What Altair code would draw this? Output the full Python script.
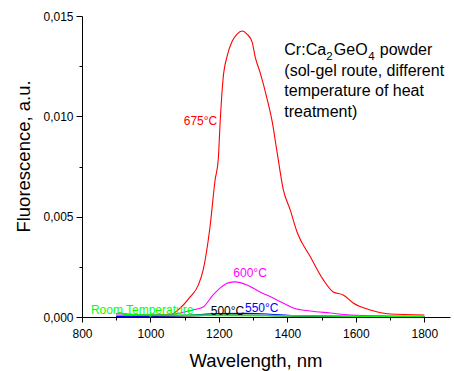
import altair as alt
import pandas as pd

FONT = "Liberation Sans"

# ---- axes ----
X_MAJOR = [800, 1000, 1200, 1400, 1600, 1800]
X_MINOR = [900, 1100, 1300, 1500, 1700]
Y_MAJOR = [0.0, 0.005, 0.010, 0.015]
Y_MINOR = [0.0025, 0.0075, 0.0125]

# ---- series (wavelength nm, fluorescence a.u.) ----
wl_675 = [900, 910, 930, 1000, 1057, 1087, 1116, 1140, 1154, 1174, 1189, 1198, 1204, 1212,
          1224, 1239, 1253, 1268, 1282, 1297, 1306, 1320, 1341, 1356, 1370, 1388, 1408,
          1429, 1467, 1505, 1534, 1563, 1592, 1642, 1700, 1800]
fl_675 = [0.00015, 0.0002, 0.00015, 0.0001, 0.00012, 0.00045, 0.001, 0.0016, 0.00235, 0.0045,
          0.00685, 0.00785, 0.00985, 0.01185, 0.013, 0.01375, 0.0141, 0.01425, 0.0141, 0.0137,
          0.01295, 0.0122, 0.01085, 0.0097, 0.0082, 0.00635, 0.00535, 0.0042, 0.003, 0.00185,
          0.00125, 0.0011, 0.0007, 0.00035, 0.00015, 0.0001]

wl_600 = [900, 1000, 1050, 1087, 1125, 1154, 1183, 1204, 1227, 1247, 1282, 1320, 1358, 1399,
          1417, 1467, 1525, 1584, 1700, 1800]
fl_600 = [0.0001, 0.0001, 0.0001, 0.0002, 0.00035, 0.0005, 0.0011, 0.00145, 0.0017, 0.00175,
          0.0016, 0.00125, 0.00095, 0.0006, 0.00045, 0.0003, 0.0002, 0.0001, 0.00005, 0.00003]

wl_550 = [900, 1100, 1200, 1280, 1350, 1420, 1600, 1800]
fl_550 = [0.00003, 0.00008, 0.00017, 0.00018, 0.00014, 0.00007, 0.00003, 0.00001]

wl_500 = [900, 1100, 1250, 1400, 1800]
fl_500 = [0.00002, 0.00005, 0.0001, 0.00005, 0.0]

wl_rt = [900, 910, 930, 1000, 1200, 1400, 1600, 1800]
fl_rt = [0.00015, 0.0002, 0.00012, 0.0001, 0.00008, 0.00006, 0.00004, 0.00002]

SERIES = [
    ("500°C", wl_500, fl_500, "#000000", 1.1),
    ("675°C", wl_675, fl_675, "#ff0000", 1.1),
    ("600°C", wl_600, fl_600, "#ff00ff", 1.1),
    ("550°C", wl_550, fl_550, "#0000ff", 1.1),
    ("Room Temperature", wl_rt, fl_rt, "#00ff00", 1.6),
]

# ---- in-plot labels: text, wavelength, value, colour, align ----
LABELS = [
    ("675°C", 1195, 0.00975, "#ff0000", "right"),
    ("600°C", 1291, 0.0022, "#ff00ff", "center"),
    ("500°C", 1225, 0.0003, "#000000", "center"),
    ("550°C", 1325, 0.00045, "#0000ff", "center"),
    ("Room Temperature", 826, 0.00035, "#00ff00", "left"),
]

NOTE_W = 1391
NOTE_V1 = 0.01305
NOTE_V2 = 0.012
NOTE_LINES = ["(sol-gel route, different", "temperature of heat", "treatment)"]
NOTE_PARTS = [("Cr:Ca", 0, 0, 16), ("2", 42, 5, 11.5), ("GeO", 49.5, 0, 16),
              ("4", 84, 5, 11.5), ("powder", 95.5, 0, 16)]

xscale = alt.Scale(domain=[800, 1875], nice=False, zero=False)
yscale = alt.Scale(domain=[0, 0.015], nice=False, zero=False)

XAXIS = alt.Axis(
    values=sorted(X_MAJOR + X_MINOR), format="d",
    labelExpr="datum.value % 200 === 0 ? datum.label : ''",
    tickSize={"condition": {"test": "datum.value % 200 === 0", "value": 5}, "value": 3},
    labelOverlap=False, labelFlush=False, grid=False,
    domainColor="black", tickColor="black", labelColor="black",
    labelFont=FONT, labelFontSize=12, labelPadding=6,
    titleFont=FONT, titleFontSize=18.5, titleFontWeight="normal", titleColor="black",
    titleX=173.5, titleY=43, titleBaseline="middle", titleAnchor="middle",
)
YAXIS = alt.Axis(
    values=sorted(Y_MAJOR + Y_MINOR),
    labelExpr="round(datum.value*10000) % 50 === 0 ? replace(format(datum.value, '.3f'), '.', ',') : ''",
    tickSize={"condition": {"test": "round(datum.value*10000) % 50 === 0", "value": 6}, "value": 3},
    labelOverlap=False, labelFlush=False, grid=False,
    domainColor="black", tickColor="black", labelColor="black",
    labelFont=FONT, labelFontSize=12, labelPadding=3,
    titleFont=FONT, titleFontSize=18.5, titleFontWeight="normal", titleColor="black",
    titleX=-59, titleY=140, titleBaseline="middle", titleAngle=-90, titleAnchor="middle",
)


def X():
    return alt.X("w:Q", scale=xscale, axis=XAXIS, title="Wavelength, nm")


def Y():
    return alt.Y("v:Q", scale=yscale, axis=YAXIS, title="Fluorescence, a.u.")


layers = []
for name, wl, fl, col, sw in SERIES:
    df = pd.DataFrame({"w": wl, "v": fl})
    layers.append(
        alt.Chart(df).mark_line(color=col, strokeWidth=sw, interpolate="monotone", clip=True)
        .encode(x=X(), y=Y())
    )

for text, w, v, col, align in LABELS:
    df = pd.DataFrame({"w": [w], "v": [v], "t": [text]})
    layers.append(
        alt.Chart(df).mark_text(color=col, font=FONT, fontSize=12, align=align, baseline="middle")
        .encode(x=X(), y=Y(), text="t:N")
    )

for text, dx, dy, fs in NOTE_PARTS:
    df = pd.DataFrame({"w": [NOTE_W], "v": [NOTE_V1], "t": [text]})
    layers.append(
        alt.Chart(df).mark_text(color="black", font=FONT, fontSize=fs, align="left",
                                baseline="alphabetic", dx=dx, dy=dy)
        .encode(x=X(), y=Y(), text="t:N")
    )

df_note = pd.DataFrame({"w": [NOTE_W], "v": [NOTE_V2]})
layers.append(
    alt.Chart(df_note).mark_text(color="black", font=FONT, fontSize=16, align="left",
                                 baseline="alphabetic", lineHeight=20.3,
                                 text=NOTE_LINES)
    .encode(x=X(), y=Y())
)

chart = alt.layer(*layers).properties(
    width=368, height=301,
    padding={"left": 82, "top": 16, "right": 4, "bottom": 54},
    autosize=alt.AutoSizeParams(type="none"),
    background="white",
).configure_view(stroke=None)

chart.save("out.html", embed_options={"renderer": "svg", "actions": False})
